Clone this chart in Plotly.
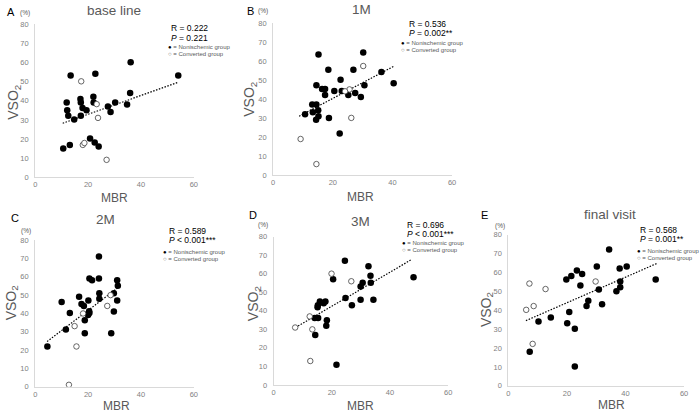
import plotly.graph_objects as go

# ---------------- data ----------------
titles = ["base line", "1M", "2M", "3M", "final visit"]
letters = ["A", "B", "C", "D", "E"]
r_text = ["R = 0.222", "R = 0.536", "R = 0.589", "R = 0.696", "R = 0.568"]
p_text = ["<i>P</i> = 0.221", "<i>P</i> = 0.002**", "<i>P</i> < 0.001***",
          "<i>P</i> < 0.001***", "<i>P</i> = 0.001**"]
x_ticks = [0, 20, 40, 60]
y_ticks = [0, 10, 20, 30, 40, 50, 60, 70, 80]

a_fill_x = [10.6, 13.1, 13.4, 11.9, 12.1, 12.5, 14.75, 17.1, 17.25, 17.9, 17.25, 19.4,
            22.75, 22.0, 22.1, 20.75, 22.5, 24.0, 27.5, 28.5, 30.25, 34.75, 35.9, 36.1, 54.1]
a_fill_y = [15.1, 17.0, 53.3, 39.1, 35.1, 32.2, 30.3, 41.0, 39.1, 36.3, 32.2, 35.1,
            54.1, 42.2, 39.1, 20.3, 18.2, 16.2, 37.1, 34.2, 39.1, 38.1, 44.1, 60.1, 53.3]
a_open_x = [17.4, 23.25, 23.75, 18.0, 18.6, 27.0]
a_open_y = [50.2, 38.3, 31.1, 17.0, 18.0, 9.2]
a_trend_x = [10.4, 54.1]
a_trend_y = [28.3, 49.7]

b_fill_x = [15.2, 18.5, 30.2, 26.9, 22.6, 36.3, 40.4, 30.6, 14.5, 16.4, 17.4, 17.4, 20.5,
            23.0, 25.2, 27.5, 29.4, 10.7, 13.1, 14.5, 13.3, 15.1, 15.2, 14.4, 18.7, 22.3]
b_fill_y = [63.3, 55.3, 64.4, 55.3, 50.1, 54.2, 48.2, 47.2, 47.2, 45.2, 45.2, 42.1, 44.1,
            44.1, 42.1, 43.1, 41.0, 31.9, 37.1, 37.1, 33.0, 34.0, 30.9, 29.0, 29.9, 21.8]
b_open_x = [30.2, 25.6, 24.1, 26.2, 9.2, 14.5]
b_open_y = [57.3, 45.0, 44.0, 30.0, 18.9, 5.7]
b_trend_x = [8.7, 40.6]
b_trend_y = [30.9, 57.3]

c_fill_x = [4.6, 10.0, 13.1, 11.6, 16.6, 17.5, 18.4, 18.75, 18.75, 20.1, 20.5, 21.5, 24.1,
            24.1, 24.25, 24.25, 20.4, 20.5, 20.0, 28.75, 29.75, 29.75, 31.0, 31.25, 31.0]
c_fill_y = [22.0, 46.2, 40.2, 31.3, 49.1, 45.2, 44.1, 36.3, 29.2, 47.1, 59.0, 58.1, 71.1,
            59.0, 51.0, 48.0, 41.2, 40.2, 39.1, 29.2, 41.1, 51.0, 58.1, 55.1, 47.1]
c_open_x = [14.9, 18.1, 15.6, 12.75, 27.25, 28.5]
c_open_y = [33.1, 40.0, 22.0, 1.1, 44.1, 50.0]
c_trend_x = [4.5, 31.25]
c_trend_y = [24.7, 54.0]

d_fill_x = [24.5, 32.6, 33.3, 20.45, 48.1, 30.6, 33.4, 29.9, 24.7, 29.9, 34.3, 26.9,
            15.9, 17.8, 17.2, 15.2, 15.1, 14.1, 15.3, 18.3, 18.1, 14.3, 21.6]
d_fill_y = [67.1, 64.1, 59.0, 57.1, 58.1, 55.2, 55.2, 53.2, 47.0, 46.0, 46.0, 43.0,
            45.1, 45.1, 44.1, 43.0, 41.9, 36.1, 36.1, 34.9, 31.9, 27.0, 10.9]
d_open_x = [19.9, 26.7, 12.4, 7.4, 13.3, 12.6]
d_open_y = [60.1, 56.0, 37.0, 31.0, 30.0, 12.9]
d_trend_x = [7.5, 47.5]
d_trend_y = [31.0, 67.8]

e_fill_x = [34.4, 30.2, 40.4, 38.0, 23.4, 21.5, 25.2, 19.8, 50.3, 24.6, 38.2, 38.2,
            30.9, 36.9, 27.3, 26.7, 32.0, 20.8, 10.3, 14.5, 20.1, 22.7, 7.3, 22.7]
e_fill_y = [72.1, 63.1, 63.1, 62.1, 61.0, 58.1, 59.1, 56.2, 56.2, 53.1, 55.2, 52.1,
            51.0, 50.0, 45.0, 42.2, 43.1, 39.1, 34.1, 36.2, 33.1, 30.2, 18.1, 10.2]
e_open_x = [7.2, 12.7, 29.8, 8.65, 6.1, 8.3]
e_open_y = [54.1, 51.2, 55.2, 42.2, 40.2, 22.2]
e_trend_x = [6.0, 50.8]
e_trend_y = [34.5, 64.8]

fill_x = [a_fill_x, b_fill_x, c_fill_x, d_fill_x, e_fill_x]
fill_y = [a_fill_y, b_fill_y, c_fill_y, d_fill_y, e_fill_y]
open_x = [a_open_x, b_open_x, c_open_x, d_open_x, e_open_x]
open_y = [a_open_y, b_open_y, c_open_y, d_open_y, e_open_y]
trend_x = [a_trend_x, b_trend_x, c_trend_x, d_trend_x, e_trend_x]
trend_y = [a_trend_y, b_trend_y, c_trend_y, d_trend_y, e_trend_y]

# ---------------- layout geometry (pixels) ----------------
W, H = 700, 416
def fx(p):
    return p / W
def fy(p):
    return 1 - p / H

# plot boxes: (left, right, top, bottom) in pixels
boxes = [(33.5, 193.5, 20.7, 177.3),
         (273.5, 454, 19.3, 174.7),
         (33.5, 193.5, 241.3, 391.3),
         (274, 450, 238, 389.3),
         (510.7, 688, 235.7, 390.3)]
letter_pos = [(3, 8), (245, 7), (7, 219), (247, 216), (481, 216)]
title_pos = [(113, 7), (363, 6), (104, 220), (362, 222), (613, 215)]
pct_pos = [(23, 9), (263, 7), (24, 232), (263, 226), (502, 227)]
rp_pos = [(168, 25), (409, 20), (166, 232), (406, 226), (642, 231)]
leg_pos = [(165, 44), (400, 40), (160, 253), (401, 244), (638, 252)]
vso_pos = [(12, 100), (250, 97), (10, 305), (255, 306), (489, 312)]
mbr_pos = [(113, 198), (362, 197), (115, 411), (362, 411), (615, 410)]

FONT = "Liberation Sans, Arial, sans-serif"
TICK_COL = "#7f7f7f"
AXIS_COL = "#d9d9d9"
TXT_COL = "#595959"

fig = go.Figure()
annotations = []
layout = {}


def ann(text, pos, size, color="#000000", xanchor="left", yanchor="middle", angle=0):
    annotations.append(dict(text=text, x=fx(pos[0]), y=fy(pos[1]), xref="paper",
                            yref="paper", showarrow=False, xanchor=xanchor,
                            yanchor=yanchor, textangle=angle,
                            font=dict(size=size, color=color, family=FONT)))


for i in range(5):
    sfx = "" if i == 0 else str(i + 1)
    xa, ya = "x" + sfx, "y" + sfx
    l, r, t, b = boxes[i]
    layout["xaxis" + sfx] = dict(
        domain=[fx(l), fx(r)], range=[0, 60], tickvals=x_ticks, anchor=ya,
        showgrid=False, zeroline=False, showline=True, linecolor=AXIS_COL, linewidth=1,
        ticks="", tickfont=dict(size=7.5, color=TICK_COL, family=FONT), fixedrange=True)
    layout["yaxis" + sfx] = dict(
        domain=[fy(b), fy(t)], range=[0, 80], tickvals=y_ticks, anchor=xa,
        showgrid=False, zeroline=False, showline=True, linecolor=AXIS_COL, linewidth=1,
        ticks="", ticklabelstandoff=4,
        tickfont=dict(size=7.5, color=TICK_COL, family=FONT), fixedrange=True)

    fig.add_trace(go.Scatter(x=trend_x[i], y=trend_y[i], mode="lines", xaxis=xa, yaxis=ya,
                             line=dict(color="#000000", width=1.2, dash="1.5px,1.5px"),
                             showlegend=False, hoverinfo="skip"))
    fig.add_trace(go.Scatter(x=fill_x[i], y=fill_y[i], mode="markers", xaxis=xa, yaxis=ya,
                             marker=dict(size=6.5, color="#000000",
                                         line=dict(width=0)),
                             showlegend=False))
    fig.add_trace(go.Scatter(x=open_x[i], y=open_y[i], mode="markers", xaxis=xa, yaxis=ya,
                             marker=dict(size=5.5, color="#ffffff",
                                         line=dict(width=0.8, color="#404040")),
                             showlegend=False))

    ann(letters[i], letter_pos[i], 11, "#000000", "left")
    ann(titles[i], title_pos[i], 13.5, TXT_COL, "center")
    ann("(%)", pct_pos[i], 6.5, TXT_COL, "center")
    ann(r_text[i], rp_pos[i], 8.5, "#000000", "left")
    ann(p_text[i], (rp_pos[i][0], rp_pos[i][1] + 9.5), 8.5, "#000000", "left")
    ann("<span style='color:#000000'>\u25cf</span> = Nonischemic group", leg_pos[i], 6,
        TXT_COL, "left")
    ann("\u25cb = Converted group", (leg_pos[i][0], leg_pos[i][1] + 7.5), 6, TXT_COL, "left")
    ann("VSO<sub>2</sub>", vso_pos[i], 14, TXT_COL, "center", "middle", -90)
    ann("MBR", mbr_pos[i], 12, TXT_COL, "center")

fig.update_layout(
    width=W, height=H, margin=dict(l=0, r=0, t=0, b=0),
    paper_bgcolor="#ffffff", plot_bgcolor="#ffffff",
    annotations=annotations, showlegend=False, **layout)

fig.write_html("out.html")
